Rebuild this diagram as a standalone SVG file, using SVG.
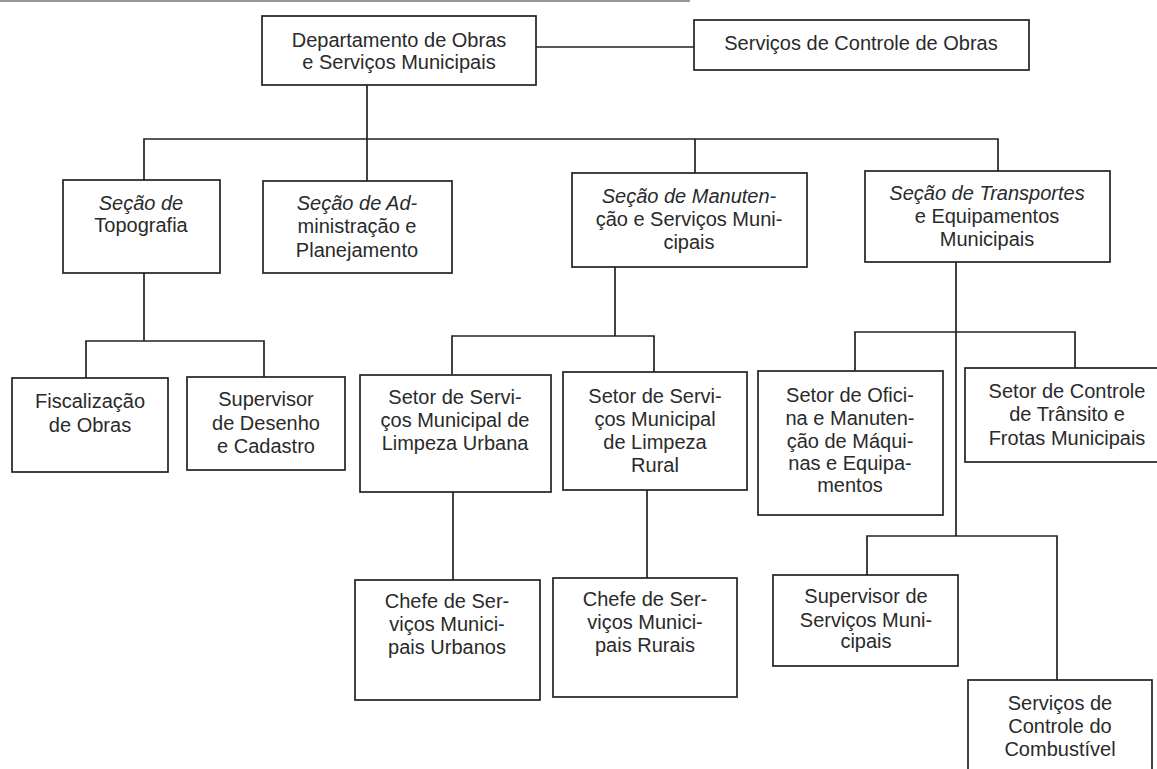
<svg xmlns="http://www.w3.org/2000/svg" width="1157" height="769" viewBox="0 0 1157 769">
<style>
.box{fill:#fff;stroke:#222;stroke-width:1.7}
.ln{fill:none;stroke:#222;stroke-width:1.7}
text{font-family:"Liberation Sans",Arial,sans-serif;font-size:20px;fill:#2a2a2a;text-anchor:middle}
.it{font-style:italic}
</style>
<rect x="0" y="0" width="1157" height="769" fill="#fff"/>
<rect x="0" y="0" width="690" height="2" fill="#9a9a9a"/>
<g id="connectors">
<path class="ln" d="M536 47 H694"/>
<path class="ln" d="M367 85 V181"/>
<path class="ln" d="M144 180 V139 H998 V171"/>
<path class="ln" d="M695 139 V173"/>
<path class="ln" d="M144 273 V341"/>
<path class="ln" d="M86 378 V341 H264 V377"/>
<path class="ln" d="M615 267 V336"/>
<path class="ln" d="M452 374 V336 H654 V372"/>
<path class="ln" d="M956 262 V536"/>
<path class="ln" d="M855 371 V332 H1075 V368"/>
<path class="ln" d="M867 575 V536 H1057 V680"/>
<path class="ln" d="M453 492 V580"/>
<path class="ln" d="M647 490 V578"/>
</g>
<g id="n-departamento">
<rect class="box" x="262" y="16" width="274" height="69"/>
<text x="399" y="47">Departamento de Obras</text>
<text x="399" y="69">e Serviços Municipais</text>
</g>
<g id="n-controle-obras">
<rect class="box" x="694" y="20" width="335" height="50"/>
<text x="861" y="50">Serviços de Controle de Obras</text>
</g>
<g id="n-topografia">
<rect class="box" x="63" y="180" width="157" height="93"/>
<text class="it" x="141" y="210">Seção de</text>
<text x="141" y="232">Topografia</text>
</g>
<g id="n-administracao">
<rect class="box" x="263" y="181" width="189" height="92"/>
<text class="it" x="357" y="210">Seção de Ad-</text>
<text x="357" y="233">ministração e</text>
<text x="357" y="257">Planejamento</text>
</g>
<g id="n-manutencao">
<rect class="box" x="572" y="173" width="235" height="94"/>
<text class="it" x="689" y="203">Seção de Manuten-</text>
<text x="689" y="226">ção e Serviços Muni-</text>
<text x="689" y="249">cipais</text>
</g>
<g id="n-transportes">
<rect class="box" x="865" y="171" width="245" height="91"/>
<text class="it" x="987" y="200">Seção de Transportes</text>
<text x="987" y="223">e Equipamentos</text>
<text x="987" y="246">Municipais</text>
</g>
<g id="n-fiscalizacao">
<rect class="box" x="12" y="378" width="156" height="94"/>
<text x="90" y="408">Fiscalização</text>
<text x="90" y="432">de Obras</text>
</g>
<g id="n-supervisor-desenho">
<rect class="box" x="187" y="377" width="158" height="93"/>
<text x="266" y="406">Supervisor</text>
<text x="266" y="430">de Desenho</text>
<text x="266" y="453">e Cadastro</text>
</g>
<g id="n-limpeza-urbana">
<rect class="box" x="360" y="375" width="191" height="117"/>
<text x="455" y="404">Setor de Servi-</text>
<text x="455" y="427">ços Municipal de</text>
<text x="455" y="450">Limpeza Urbana</text>
</g>
<g id="n-limpeza-rural">
<rect class="box" x="563" y="372" width="184" height="118"/>
<text x="655" y="403">Setor de Servi-</text>
<text x="655" y="426">ços Municipal</text>
<text x="655" y="449">de Limpeza</text>
<text x="655" y="472">Rural</text>
</g>
<g id="n-oficina">
<rect class="box" x="758" y="371" width="185" height="144"/>
<text x="850" y="402">Setor de Ofici-</text>
<text x="850" y="425">na e Manuten-</text>
<text x="850" y="448">ção de Máqui-</text>
<text x="850" y="470">nas e Equipa-</text>
<text x="850" y="492">mentos</text>
</g>
<g id="n-transito">
<rect class="box" x="965" y="368" width="205" height="94"/>
<text x="1067" y="398">Setor de Controle</text>
<text x="1067" y="421">de Trânsito e</text>
<text x="1067" y="445">Frotas Municipais</text>
</g>
<g id="n-chefe-urbanos">
<rect class="box" x="355" y="580" width="185" height="120"/>
<text x="447" y="608">Chefe de Ser-</text>
<text x="447" y="631">viços Munici-</text>
<text x="447" y="654">pais Urbanos</text>
</g>
<g id="n-chefe-rurais">
<rect class="box" x="553" y="578" width="184" height="119"/>
<text x="645" y="606">Chefe de Ser-</text>
<text x="645" y="629">viços Munici-</text>
<text x="645" y="652">pais Rurais</text>
</g>
<g id="n-supervisor-servicos">
<rect class="box" x="773" y="575" width="185" height="91"/>
<text x="866" y="603">Supervisor de</text>
<text x="866" y="627">Serviços Muni-</text>
<text x="866" y="648">cipais</text>
</g>
<g id="n-combustivel">
<rect class="box" x="968" y="680" width="184" height="100"/>
<text x="1060" y="710">Serviços de</text>
<text x="1060" y="733">Controle do</text>
<text x="1060" y="756">Combustível</text>
</g>
</svg>
